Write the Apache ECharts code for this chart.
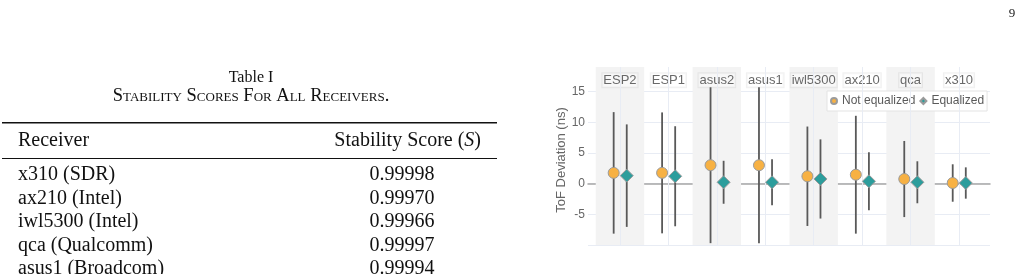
<!DOCTYPE html>
<html>
<head>
<meta charset="utf-8">
<script src="https://cdn.jsdelivr.net/npm/echarts@6/dist/echarts.min.js"></script>
<style>
html,body{margin:0;padding:0;background:#fff;}
#c{width:1035px;height:274px;}
</style>
</head>
<body>
<div id="c"></div>
<script>
// ---- chart data ----
const receivers = ['ESP2', 'ESP1', 'asus2', 'asus1', 'iwl5300', 'ax210', 'qca', 'x310'];
const notEqMean = [1.75, 1.75, 3.0, 3.0, 1.2, 1.45, 0.75, 0.1];
const notEqStd  = [9.9, 9.85, 12.7, 12.7, 8.1, 9.6, 6.2, 3.05];
const eqMean    = [1.3, 1.2, 0.22, 0.22, 0.76, 0.38, 0.22, 0.1];
const eqStd     = [8.35, 8.15, 3.5, 3.75, 6.45, 4.72, 3.42, 2.55];
const seriesNames = ['Not equalized', 'Equalized'];
const yAxisTitle = 'ToF Deviation (ns)';

// ---- table data ----
const tableTitle = 'Table I';
const tableCaption = 'Stability Scores For All Receivers.';
const tableHeaders = ['Receiver', 'Stability Score (', 'S', ')'];
const tableReceivers = ['x310 (SDR)', 'ax210 (Intel)', 'iwl5300 (Intel)', 'qca (Qualcomm)', 'asus1 (Broadcom)'];
const tableScores = ['0.99998', '0.99970', '0.99966', '0.99997', '0.99994'];
const pageNumber = '9';

// ---- styling / layout constants ----
const OFF_NE = -0.13, OFF_EQ = 0.14, LABEL_Y = 16.85;
const C_NE = '#F7B143', C_EQ = '#2C9D9C';
const GRID_C = '#e8ecf4';
const sans = '"Liberation Sans", Arial, sans-serif';
const serif = '"Liberation Serif", "Times New Roman", serif';

const chart = echarts.init(document.getElementById('c'), null, {renderer: 'canvas'});

function errBar(params, api) {
  const p1 = api.coord([api.value(0), api.value(1)]);
  const p2 = api.coord([api.value(0), api.value(2)]);
  return {
    type: 'line',
    shape: {x1: p1[0], y1: p1[1], x2: p2[0], y2: p2[1]},
    style: {stroke: '#595959', lineWidth: 1.8}
  };
}

// table graphics
const g = [];
g.push({type: 'text', x: 1012, y: 14, style: {text: pageNumber, font: '13px ' + serif, fill: '#222', textAlign: 'center', textVerticalAlign: 'middle'}});
g.push({type: 'text', x: 251, y: 78, style: {text: tableTitle, font: '16px ' + serif, fill: '#111', textAlign: 'center', textVerticalAlign: 'middle'}});
g.push({type: 'text', x: 251, y: 96.5, style: {text: tableCaption, font: 'small-caps 18.5px ' + serif, fill: '#111', textAlign: 'center', textVerticalAlign: 'middle'}});
g.push({type: 'rect', shape: {x: 2, y: 121.9, width: 495, height: 1.5}, style: {fill: '#111'}});
g.push({type: 'rect', shape: {x: 2, y: 157.9, width: 495, height: 1.0}, style: {fill: '#111'}});
g.push({type: 'text', x: 18, y: 141, style: {text: tableHeaders[0], font: '20px ' + serif, fill: '#111', textAlign: 'left', textVerticalAlign: 'middle'}});
g.push({type: 'text', x: 481, y: 141, style: {
  text: '{n|' + tableHeaders[1] + '}{i|' + tableHeaders[2] + '}{n|' + tableHeaders[3] + '}',
  textAlign: 'right', textVerticalAlign: 'middle', fill: '#111',
  rich: {n: {fontFamily: serif, fontSize: 20, fill: '#111'}, i: {fontFamily: serif, fontSize: 20, fontStyle: 'italic', fill: '#111'}}
}});
tableReceivers.forEach((r, i) => {
  const y = 175 + i * 23.5;
  g.push({type: 'text', x: 18, y: y, style: {text: r, font: '20px ' + serif, fill: '#111', textAlign: 'left', textVerticalAlign: 'middle'}});
  g.push({type: 'text', x: 402, y: y, style: {text: tableScores[i], font: '20px ' + serif, fill: '#111', textAlign: 'center', textVerticalAlign: 'middle'}});
});

const option = {
  animation: false,
  backgroundColor: '#fff',
  graphic: g,
  grid: {left: 588, top: 67, width: 402, height: 178, containLabel: false},
  legend: {
    data: [{name: seriesNames[0], icon: 'circle'}, {name: seriesNames[1], icon: 'diamond'}],
    left: 827, top: 91, orient: 'horizontal',
    itemWidth: 6, itemHeight: 6, itemGap: 4,
    padding: [4, 3, 4, 3],
    backgroundColor: '#fff', borderColor: '#e3e3e3', borderWidth: 1,
    textStyle: {fontFamily: sans, fontSize: 12, color: '#5a5a5a'},
    selectedMode: false
  },
  xAxis: {
    type: 'value', min: -0.66, max: 7.64,
    axisLine: {show: true, onZero: true, lineStyle: {color: '#a6a6a6', width: 1.5}},
    axisTick: {show: false}, axisLabel: {show: false}, splitLine: {show: false}
  },
  yAxis: {
    type: 'value', min: -10, max: 19, interval: 5,
    name: yAxisTitle, nameLocation: 'middle', nameGap: 19,
    nameTextStyle: {fontFamily: sans, fontSize: 13, color: '#666', padding: [0, 8, 0, 0]},
    axisLine: {show: false}, axisTick: {show: false},
    axisLabel: {fontFamily: sans, fontSize: 12, color: '#666', margin: 3, showMinLabel: false, showMaxLabel: false},
    splitLine: {show: true, showMaxLine: false, lineStyle: {color: GRID_C, width: 1}}
  },
  series: [
    {
      type: 'scatter', name: 'bands', silent: true, z: 0,
      symbolSize: 0, data: [],
      markArea: {
        silent: true,
        itemStyle: {color: '#f3f3f3'},
        data: receivers.map((r, i) => i % 2 === 0 ? [{xAxis: i - 0.5}, {xAxis: i + 0.5}] : null).filter(Boolean)
      }
    },
    {
      type: 'scatter', name: 'vgrid', silent: true, z: 1,
      symbolSize: 0, data: [],
      markLine: {
        silent: true, symbol: 'none', label: {show: false},
        lineStyle: {color: GRID_C, width: 1, type: 'solid', opacity: 1},
        data: receivers.map((r, i) => ({xAxis: i}))
      }
    },
    {
      type: 'scatter', name: 'labels', silent: true, z: 2,
      symbol: 'circle', symbolSize: 1, itemStyle: {color: 'rgba(0,0,0,0)'},
      data: receivers.map((r, i) => [i, LABEL_Y, r]),
      label: {
        show: true, position: 'inside', formatter: p => p.value[2],
        fontFamily: sans, fontSize: 13, color: '#444',
        backgroundColor: 'rgba(255,255,255,0.55)', borderColor: 'rgba(0,0,0,0.07)', borderWidth: 1,
        padding: [0, 1, 0, 1], lineHeight: 14
      }
    },
    {
      type: 'custom', name: 'errNE', silent: true, z: 3, clip: true,
      renderItem: errBar, encode: {x: 0, y: [1, 2]},
      data: receivers.map((r, i) => [i + OFF_NE, notEqMean[i] - notEqStd[i], notEqMean[i] + notEqStd[i]])
    },
    {
      type: 'custom', name: 'errEQ', silent: true, z: 3, clip: true,
      renderItem: errBar, encode: {x: 0, y: [1, 2]},
      data: receivers.map((r, i) => [i + OFF_EQ, eqMean[i] - eqStd[i], eqMean[i] + eqStd[i]])
    },
    {
      type: 'scatter', name: seriesNames[0], z: 5,
      symbol: 'circle', symbolSize: 11,
      itemStyle: {color: C_NE, borderColor: '#9b9b9b', borderWidth: 1, opacity: 1},
      data: receivers.map((r, i) => [i + OFF_NE, notEqMean[i]])
    },
    {
      type: 'scatter', name: seriesNames[1], z: 5,
      symbol: 'diamond', symbolSize: 13,
      itemStyle: {color: C_EQ, borderColor: '#9b9b9b', borderWidth: 1, opacity: 1},
      data: receivers.map((r, i) => [i + OFF_EQ, eqMean[i]])
    }
  ]
};
chart.setOption(option);
</script>
</body>
</html>
